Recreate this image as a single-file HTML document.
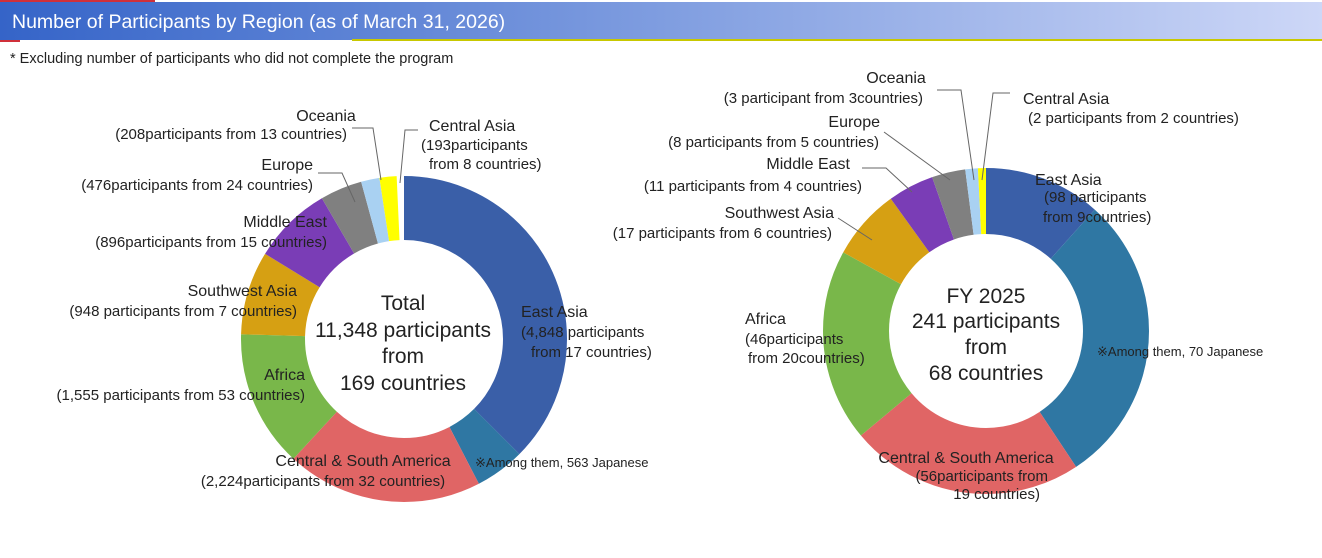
<!DOCTYPE html>
<html><head><meta charset="utf-8"><style>
body{margin:0;width:1322px;height:553px;background:#fff;overflow:hidden;font-family:"Liberation Sans",sans-serif}
svg text{font-family:"Liberation Sans",sans-serif;fill:#222}
</style></head><body>
<svg width="1322" height="553" xmlns="http://www.w3.org/2000/svg">
<defs><linearGradient id="hg" x1="0" x2="1"><stop offset="0" stop-color="#3564c8"/><stop offset="0.5" stop-color="#7f9de0"/><stop offset="1" stop-color="#cdd7f7"/></linearGradient></defs>
<rect x="0" y="2" width="1322" height="38" fill="url(#hg)"/>
<rect x="0" y="0" width="155" height="2" fill="#d0303a"/>
<rect x="0" y="40" width="20" height="2" fill="#d0303a"/>
<rect x="352" y="39" width="970" height="2" fill="#c8c800"/>
<text x="12" y="28" font-size="19.5" style="fill:#fff">Number of Participants by Region (as of March 31, 2026)</text>
<text x="10" y="63" font-size="14.5">* Excluding number of participants who did not complete the program</text>

<g transform="translate(404,339) rotate(-90)" fill="none" stroke-width="64">
<circle r="131" stroke="#3a5fa8" stroke-dasharray="308.4 900" stroke-dashoffset="0"/>
<circle r="131" stroke="#2f77a3" stroke-dasharray="40.5 900" stroke-dashoffset="-308.4"/>
<circle r="131" stroke="#e06565" stroke-dasharray="160.1 900" stroke-dashoffset="-348.9"/>
<circle r="131" stroke="#79b74a" stroke-dasharray="111.9 900" stroke-dashoffset="-509"/>
<circle r="131" stroke="#d6a013" stroke-dasharray="68.2 900" stroke-dashoffset="-620.9"/>
<circle r="131" stroke="#7a3db6" stroke-dasharray="64.5 900" stroke-dashoffset="-689.1"/>
<circle r="131" stroke="#808080" stroke-dasharray="34.3 900" stroke-dashoffset="-753.6"/>
<circle r="131" stroke="#a9d1f2" stroke-dasharray="15 900" stroke-dashoffset="-787.9"/>
<circle r="131" stroke="#ffff00" stroke-dasharray="13.9 900" stroke-dashoffset="-802.9"/>
</g>
<g transform="translate(986,331) rotate(-90)" fill="none" stroke-width="66">
<circle r="130" stroke="#3a5fa8" stroke-dasharray="94.9 900" stroke-dashoffset="0"/>
<circle r="130" stroke="#2f77a3" stroke-dasharray="237.2 900" stroke-dashoffset="-94.9"/>
<circle r="130" stroke="#e06565" stroke-dasharray="189.8 900" stroke-dashoffset="-332.1"/>
<circle r="130" stroke="#79b74a" stroke-dasharray="155.9 900" stroke-dashoffset="-521.9"/>
<circle r="130" stroke="#d6a013" stroke-dasharray="57.6 900" stroke-dashoffset="-677.8"/>
<circle r="130" stroke="#7a3db6" stroke-dasharray="37.3 900" stroke-dashoffset="-735.4"/>
<circle r="130" stroke="#808080" stroke-dasharray="27.1 900" stroke-dashoffset="-772.7"/>
<circle r="130" stroke="#a9d1f2" stroke-dasharray="10.2 900" stroke-dashoffset="-799.8"/>
<circle r="130" stroke="#ffff00" stroke-dasharray="6.8 900" stroke-dashoffset="-810"/>
</g>

<g stroke="#666" fill="none" stroke-width="1">
<polyline points="352,128 373,128 381,180"/>
<polyline points="418,130 405,130 400,183"/>
<polyline points="318,173 342,173 355,202"/>
<polyline points="937,90 961,90 974,180"/>
<polyline points="1010,93 993,93 982,180"/>
<polyline points="884,132 950,180"/>
<polyline points="862,168 886,168 912,192"/>
<polyline points="838,218 872,240"/>
</g>

<g font-size="15">
<text x="326" y="121" text-anchor="middle" font-size="16">Oceania</text>
<text x="347" y="139" text-anchor="end">(208participants from 13 countries)</text>
<text x="429" y="131" font-size="16">Central Asia</text>
<text x="421" y="150">(193participants</text>
<text x="429" y="169">from 8 countries)</text>
<text x="313" y="170" text-anchor="end" font-size="16">Europe</text>
<text x="313" y="190" text-anchor="end">(476participants from 24 countries)</text>
<text x="327" y="227" text-anchor="end" font-size="16">Middle East</text>
<text x="327" y="247" text-anchor="end">(896participants from 15 countries)</text>
<text x="297" y="296" text-anchor="end" font-size="16">Southwest Asia</text>
<text x="297" y="316" text-anchor="end">(948 participants  from 7 countries)</text>
<text x="305" y="380" text-anchor="end" font-size="16">Africa</text>
<text x="305" y="400" text-anchor="end">(1,555 participants from 53 countries)</text>
<text x="521" y="317" font-size="16">East Asia</text>
<text x="521" y="337">(4,848 participants</text>
<text x="531" y="357">from 17 countries)</text>
<text x="363" y="466" text-anchor="middle" font-size="16">Central &amp; South America</text>
<text x="323" y="486" text-anchor="middle">(2,224participants from 32 countries)</text>
<text x="475" y="467" font-size="13">※Among them, 563 Japanese</text>

<text x="896" y="83" text-anchor="middle" font-size="16">Oceania</text>
<text x="923" y="103" text-anchor="end">(3 participant from 3countries)</text>
<text x="1023" y="104" font-size="16">Central Asia</text>
<text x="1028" y="123">(2 participants from 2 countries)</text>
<text x="880" y="127" text-anchor="end" font-size="16">Europe</text>
<text x="879" y="147" text-anchor="end">(8 participants from 5 countries)</text>
<text x="850" y="169" text-anchor="end" font-size="16">Middle East</text>
<text x="862" y="191" text-anchor="end">(11 participants from 4 countries)</text>
<text x="834" y="218" text-anchor="end" font-size="16">Southwest Asia</text>
<text x="832" y="238" text-anchor="end">(17 participants  from 6 countries)</text>
<text x="745" y="324" font-size="16">Africa</text>
<text x="745" y="344">(46participants</text>
<text x="748" y="363">from 20countries)</text>
<text x="1035" y="185" font-size="16">East Asia</text>
<text x="1044" y="202">(98 participants</text>
<text x="1043" y="222">from 9countries)</text>
<text x="1097" y="356" font-size="13">※Among them, 70 Japanese</text>
<text x="966" y="463" text-anchor="middle" font-size="16">Central &amp; South America</text>
<text x="1048" y="481" text-anchor="end">(56participants from</text>
<text x="1040" y="499" text-anchor="end">19 countries)</text>
</g>

<g font-size="21" text-anchor="middle">
<text x="403" y="310">Total</text>
<text x="403" y="337">11,348 participants</text>
<text x="403" y="363">from</text>
<text x="403" y="390">169 countries</text>
<text x="986" y="303">FY 2025</text>
<text x="986" y="328">241 participants</text>
<text x="986" y="354">from</text>
<text x="986" y="380">68 countries</text>
</g>
</svg>
</body></html>
